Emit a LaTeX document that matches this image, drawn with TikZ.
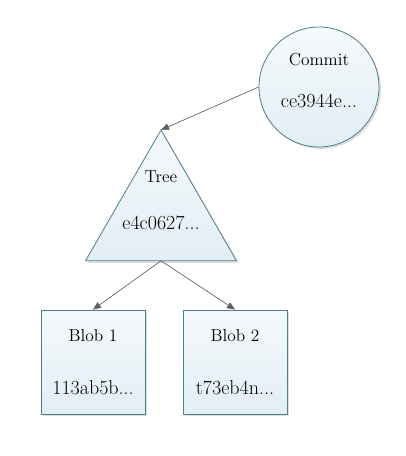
\documentclass[tikz,border=0pt]{standalone}
\usetikzlibrary{shapes.geometric, arrows.meta, shadows}
\definecolor{edge}{RGB}{78, 126, 140}
\definecolor{paleblue}{RGB}{226, 238, 245}
\definecolor{linkgray}{RGB}{96, 96, 96}
\newcommand{\hashtext}[1]{{\fontsize{15}{18}\selectfont #1}}

\begin{document}
\begin{tikzpicture}[
            x=0.75pt, y=-0.75pt,
            obj/.style={draw=edge, line width=0.6pt, top color=paleblue!35, bottom color=paleblue, align=center, font=\fontsize{13}{16}\selectfont, drop shadow={opacity=0.25, shadow xshift=1.5pt, shadow yshift=-1.5pt}},
            blob/.style={obj, rectangle, minimum width=78pt, minimum height=78pt},
            commit/.style={obj, circle, minimum size=90pt, inner sep=0pt},
            tree/.style={obj, regular polygon, regular polygon sides=3, minimum size=130.8pt, inner sep=0pt, outer sep=0pt},
            link/.style={-{Triangle[length=6pt, width=5pt]}, linkgray, line width=0.5pt}
        ]
            \useasboundingbox (0,0) rectangle (406,456);
            \node[commit] (commit) at (319,87) {Commit\\[16pt]\hashtext{ce3944e...}\\[-6pt]~};
            \node[tree] (tree) at (161,217.2) {};
            \node[align=center, font=\fontsize{13}{16}\selectfont] (treetext) at (161,200) {Tree\\[19pt]\hashtext{e4c0627...}};
            \node[blob] (blob1) at (93,362) {~\\[-7pt]Blob 1\\[24pt]\hashtext{113ab5b...}};
            \node[blob] (blob2) at (235,362) {~\\[-7pt]Blob 2\\[24pt]\hashtext{t73eb4n...}};
            
            \draw[link] (commit.west) -- (tree.corner 1);
            \draw[link] (tree.south) -- (blob1.north);
            \draw[link] (tree.south) -- (blob2.north);
        \end{tikzpicture}
\end{document}
